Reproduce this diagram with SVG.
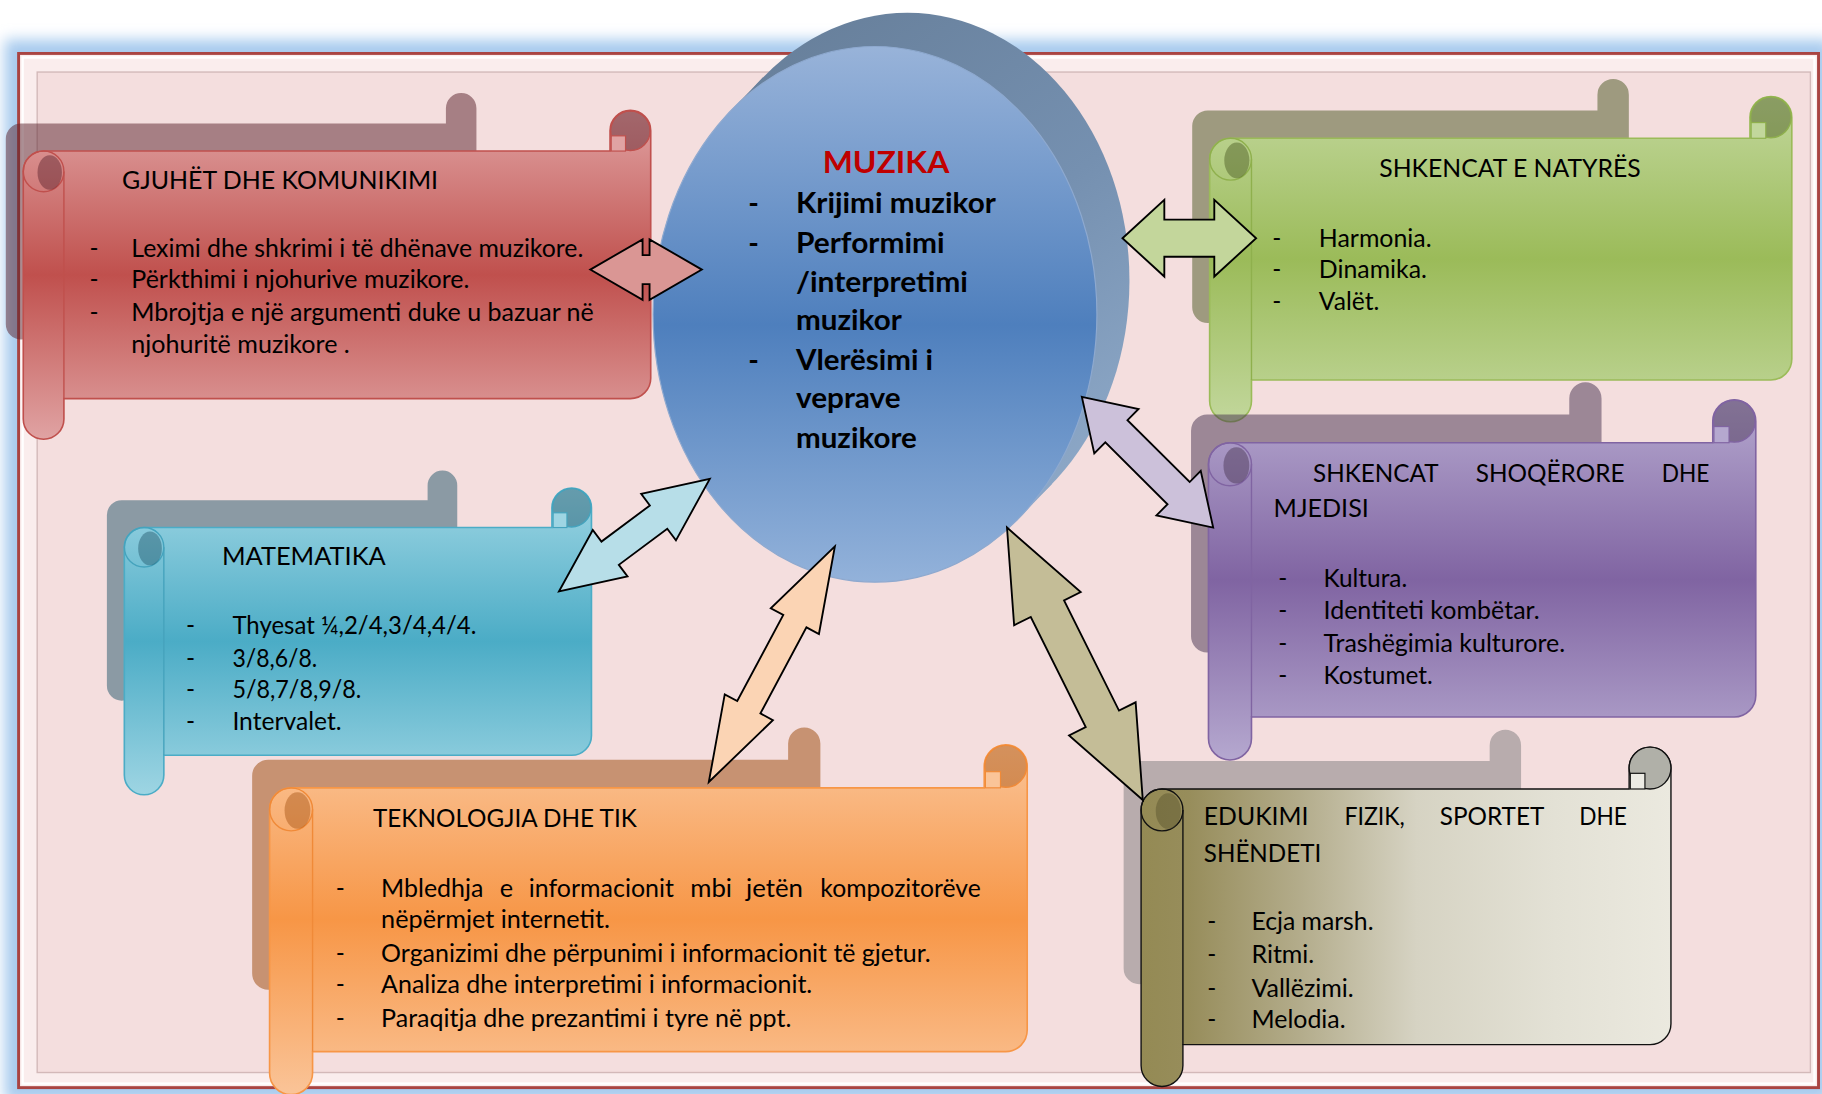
<svg xmlns="http://www.w3.org/2000/svg" width="1822" height="1094" viewBox="0 0 1822 1094">
<defs>
<style>
.t{font-family:Lato,'Liberation Sans',sans-serif;font-size:21px;fill:#000}
.bd{font-weight:700;font-size:24.5px}
.mz{font-weight:700;font-size:26px;fill:#C00000}
.arr{stroke:#000;stroke-width:1.6;stroke-linejoin:miter}
.shd{fill-opacity:0.5}
.ln{fill:none;stroke-width:1.2}
</style>
<filter id="blur" x="-5%" y="-5%" width="110%" height="110%"><feGaussianBlur stdDeviation="6"/></filter>
<linearGradient id="gRed" x1="0" y1="0" x2="0" y2="1"><stop offset="0" stop-color="#E0A3A3"/><stop offset="0.5" stop-color="#C0504D"/><stop offset="1" stop-color="#E0A3A3"/></linearGradient>
<linearGradient id="gGreen" x1="0" y1="0" x2="0" y2="1"><stop offset="0" stop-color="#C2D79C"/><stop offset="0.5" stop-color="#9BBB59"/><stop offset="1" stop-color="#C2D79C"/></linearGradient>
<linearGradient id="gPurple" x1="0" y1="0" x2="0" y2="1"><stop offset="0" stop-color="#B5A8CF"/><stop offset="0.5" stop-color="#8064A2"/><stop offset="1" stop-color="#B5A8CF"/></linearGradient>
<linearGradient id="gBlue" x1="0" y1="0" x2="0" y2="1"><stop offset="0" stop-color="#9ED5E3"/><stop offset="0.5" stop-color="#4BACC6"/><stop offset="1" stop-color="#9ED5E3"/></linearGradient>
<linearGradient id="gOrange" x1="0" y1="0" x2="0" y2="1"><stop offset="0" stop-color="#FAC498"/><stop offset="0.5" stop-color="#F79646"/><stop offset="1" stop-color="#FAC498"/></linearGradient>
<linearGradient id="gEdu" x1="0" y1="0" x2="1" y2="0"><stop offset="0" stop-color="#948A54"/><stop offset="0.09" stop-color="#978D5B"/><stop offset="0.3" stop-color="#B3AC8B"/><stop offset="0.52" stop-color="#D6D3C3"/><stop offset="0.78" stop-color="#E3E1D5"/><stop offset="1" stop-color="#EBE9DF"/></linearGradient>
<linearGradient id="gFront" x1="0" y1="0" x2="0" y2="1"><stop offset="0" stop-color="#98B3D9"/><stop offset="0.52" stop-color="#4E7FBD"/><stop offset="1" stop-color="#93B2DA"/></linearGradient>
<linearGradient id="gBack" gradientUnits="userSpaceOnUse" x1="640" y1="20" x2="960" y2="460"><stop offset="0" stop-color="#667E99"/><stop offset="0.5" stop-color="#7590B0"/><stop offset="1" stop-color="#93AECD"/></linearGradient>
<path id="pRed" d="M37.5,130 L525,130 L525,112.5 A17.5,17.5 0 0 1 560,112.5 L560,325.5 A17.5,17.5 0 0 1 542.5,343 L55,343 L55,360.5 A17.5,17.5 0 0 1 20,360.5 L20,147.5 A17.5,17.5 0 0 1 37.5,130 Z"/>
<path id="pGreen" d="M1059,119 L1506,119 L1506,101 A18,18 0 0 1 1542,101 L1542,309 A18,18 0 0 1 1524,327 L1077,327 L1077,345 A18,18 0 0 1 1041,345 L1041,137 A18,18 0 0 1 1059,119 Z"/>
<path id="pPurple" d="M1058.5,381 L1474,381 L1474,362.5 A18.5,18.5 0 0 1 1511,362.5 L1511,598.5 A18.5,18.5 0 0 1 1492.5,617 L1077,617 L1077,635.5 A18.5,18.5 0 0 1 1040,635.5 L1040,399.5 A18.5,18.5 0 0 1 1058.5,381 Z"/>
<path id="pBlue" d="M124,454 L475,454 L475,437 A17,17 0 0 1 509,437 L509,633 A17,17 0 0 1 492,650 L141,650 L141,667 A17,17 0 0 1 107,667 L107,471 A17,17 0 0 1 124,454 Z"/>
<path id="pOrange" d="M250.5,678 L847,678 L847,659.5 A18.5,18.5 0 0 1 884,659.5 L884,886.5 A18.5,18.5 0 0 1 865.5,905 L269,905 L269,923.5 A18.5,18.5 0 0 1 232,923.5 L232,696.5 A18.5,18.5 0 0 1 250.5,678 Z"/>
<path id="pEdu" d="M1000,679 L1402,679 L1402,661 A18,18 0 0 1 1438,661 L1438,881 A18,18 0 0 1 1420,899 L1018,899 L1018,917 A18,18 0 0 1 982,917 L982,697 A18,18 0 0 1 1000,679 Z"/>
</defs>
<rect x="0" y="0" width="1822" height="1094" fill="#FFFFFF"/>
<g transform="scale(1.162)">
<g id="frame">
<rect x="4" y="34" width="1572" height="914" fill="#A8CBEE" filter="url(#blur)"/>
<rect x="16" y="46" width="1549" height="890" fill="#FAEDED" stroke="#A94442" stroke-width="2.5"/>
<rect x="19.5" y="49.5" width="1542" height="883" fill="none" stroke="#FFFFFF" stroke-width="2"/>
<rect x="32" y="62" width="1526" height="861" fill="#F4DEDE" stroke="#D3B9B9" stroke-width="1.2"/>
</g>

<g id="node-muzika">
<ellipse cx="781" cy="241.5" rx="191" ry="230.5" fill="url(#gBack)"/>
<polygon points="628.7,95.5 656.7,66.5 905.3,416.5 877.3,445.5" fill="url(#gBack)"/>
<ellipse cx="753" cy="270.5" rx="191" ry="230.5" fill="url(#gFront)" stroke="#8EA9CF" stroke-width="1"/>
<text class="t mz" x="708" y="149" textLength="109" lengthAdjust="spacingAndGlyphs">MUZIKA</text>
<text class="t bd" x="644" y="183.5">-</text>
<text class="t bd" x="685" y="183.5" textLength="172" lengthAdjust="spacingAndGlyphs">Krijimi muzikor</text>
<text class="t bd" x="644" y="217.5">-</text>
<text class="t bd" x="685" y="217.5" textLength="128" lengthAdjust="spacingAndGlyphs">Performimi</text>
<text class="t bd" x="685" y="251" textLength="148" lengthAdjust="spacingAndGlyphs">/interpretimi</text>
<text class="t bd" x="685" y="284" textLength="91" lengthAdjust="spacingAndGlyphs">muzikor</text>
<text class="t bd" x="644" y="318.5">-</text>
<text class="t bd" x="685" y="318.5" textLength="118" lengthAdjust="spacingAndGlyphs">Vlerësimi i</text>
<text class="t bd" x="685" y="351" textLength="90" lengthAdjust="spacingAndGlyphs">veprave</text>
<text class="t bd" x="685" y="385.5" textLength="104" lengthAdjust="spacingAndGlyphs">muzikore</text>
</g>

<g id="node-gjuhet">
<use href="#pRed" transform="translate(5 80) scale(0.75) translate(-20 -95)" fill="#58202A" class="shd"/>
<use href="#pRed" fill="url(#gRed)" stroke="#C0504D" stroke-width="1.4"/>
<line x1="55" y1="147.5" x2="55" y2="343" stroke="#C0504D" class="ln"/>
<circle cx="37.5" cy="147.5" r="17.5" stroke="#C0504D" class="ln"/>
<ellipse cx="42.8" cy="148.5" rx="10.5" ry="14.9" fill="#58202A" fill-opacity="0.45"/>
<circle cx="542.5" cy="112.5" r="17" fill="#58202A" fill-opacity="0.45" stroke="#C0504D" stroke-width="1.2"/>
<rect x="526" y="116.9" width="12.3" height="13.1" fill="#E0A3A3" stroke="#C0504D" stroke-width="1"/>
<text class="t" x="105" y="163" textLength="272" lengthAdjust="spacingAndGlyphs">GJUHËT DHE KOMUNIKIMI</text>
<text class="t" x="77" y="221">-</text>
<text class="t" x="113" y="221" textLength="389" lengthAdjust="spacingAndGlyphs">Leximi dhe shkrimi i të dhënave muzikore.</text>
<text class="t" x="77" y="248">-</text>
<text class="t" x="113" y="248" textLength="291" lengthAdjust="spacingAndGlyphs">Përkthimi i njohurive muzikore.</text>
<text class="t" x="77" y="276">-</text>
<text class="t" x="113" y="276" textLength="398" lengthAdjust="spacingAndGlyphs">Mbrojtja e një argumenti duke u bazuar në</text>
<text class="t" x="113" y="304" textLength="188" lengthAdjust="spacingAndGlyphs">njohuritë muzikore .</text>
</g>

<g id="node-natyres">
<use href="#pGreen" transform="translate(1026 68) scale(0.75) translate(-1041 -83)" fill="#485620" class="shd"/>
<use href="#pGreen" fill="url(#gGreen)" stroke="#9BBB59" stroke-width="1.4"/>
<line x1="1077" y1="137" x2="1077" y2="327" stroke="#8FB04D" class="ln"/>
<circle cx="1059" cy="137" r="18" stroke="#8FB04D" class="ln"/>
<ellipse cx="1064.4" cy="138" rx="10.8" ry="15.3" fill="#485620" fill-opacity="0.45"/>
<circle cx="1524" cy="101" r="17.5" fill="#485620" fill-opacity="0.45" stroke="#8FB04D" stroke-width="1.2"/>
<rect x="1507" y="105.5" width="12.6" height="13.5" fill="#C2D79C" stroke="#8FB04D" stroke-width="1"/>
<text class="t" x="1187" y="152" textLength="225" lengthAdjust="spacingAndGlyphs">SHKENCAT E NATYRËS</text>
<text class="t" x="1095" y="212.5">-</text>
<text class="t" x="1135" y="212.5" textLength="97" lengthAdjust="spacingAndGlyphs">Harmonia.</text>
<text class="t" x="1095" y="239.5">-</text>
<text class="t" x="1135" y="239.5" textLength="93" lengthAdjust="spacingAndGlyphs">Dinamika.</text>
<text class="t" x="1095" y="267">-</text>
<text class="t" x="1135" y="267" textLength="52" lengthAdjust="spacingAndGlyphs">Valët.</text>
</g>

<g id="node-shoqerore">
<use href="#pPurple" transform="translate(1025 329) scale(0.75) translate(-1040 -344)" fill="#44304E" class="shd"/>
<use href="#pPurple" fill="url(#gPurple)" stroke="#8064A2" stroke-width="1.4"/>
<line x1="1077" y1="399.5" x2="1077" y2="617" stroke="#8064A2" class="ln"/>
<circle cx="1058.5" cy="399.5" r="18.5" stroke="#8064A2" class="ln"/>
<ellipse cx="1064" cy="400.5" rx="11.1" ry="15.7" fill="#44304E" fill-opacity="0.45"/>
<circle cx="1492.5" cy="362.5" r="18" fill="#44304E" fill-opacity="0.45" stroke="#8064A2" stroke-width="1.2"/>
<rect x="1475" y="367.1" width="13" height="13.9" fill="#B5A8CF" stroke="#8064A2" stroke-width="1"/>
<text class="t" x="1130" y="415" textLength="108" lengthAdjust="spacingAndGlyphs">SHKENCAT</text>
<text class="t" x="1270" y="415" textLength="128" lengthAdjust="spacingAndGlyphs">SHOQËRORE</text>
<text class="t" x="1430" y="415" textLength="41" lengthAdjust="spacingAndGlyphs">DHE</text>
<text class="t" x="1096" y="445" textLength="82" lengthAdjust="spacingAndGlyphs">MJEDISI</text>
<text class="t" x="1100" y="505">-</text>
<text class="t" x="1139" y="505" textLength="72" lengthAdjust="spacingAndGlyphs">Kultura.</text>
<text class="t" x="1100" y="533">-</text>
<text class="t" x="1139" y="533" textLength="186" lengthAdjust="spacingAndGlyphs">Identiteti kombëtar.</text>
<text class="t" x="1100" y="561">-</text>
<text class="t" x="1139" y="561" textLength="208" lengthAdjust="spacingAndGlyphs">Trashëgimia kulturore.</text>
<text class="t" x="1100" y="589">-</text>
<text class="t" x="1139" y="589" textLength="94" lengthAdjust="spacingAndGlyphs">Kostumet.</text>
</g>

<g id="node-matematika">
<use href="#pBlue" transform="translate(92 405) scale(0.75) translate(-107 -420)" fill="#22566A" class="shd"/>
<use href="#pBlue" fill="url(#gBlue)" stroke="#4BACC6" stroke-width="1.4"/>
<line x1="141" y1="471" x2="141" y2="650" stroke="#45A3BD" class="ln"/>
<circle cx="124" cy="471" r="17" stroke="#45A3BD" class="ln"/>
<ellipse cx="129.1" cy="472" rx="10.2" ry="14.5" fill="#22566A" fill-opacity="0.45"/>
<circle cx="492" cy="437" r="16.5" fill="#22566A" fill-opacity="0.45" stroke="#45A3BD" stroke-width="1.2"/>
<rect x="476" y="441.3" width="11.9" height="12.7" fill="#9ED5E3" stroke="#45A3BD" stroke-width="1"/>
<text class="t" x="191" y="486" textLength="141" lengthAdjust="spacingAndGlyphs">MATEMATIKA</text>
<text class="t" x="160" y="546">-</text>
<text class="t" x="200" y="546" textLength="210" lengthAdjust="spacingAndGlyphs">Thyesat ¼,2/4,3/4,4/4.</text>
<text class="t" x="160" y="574">-</text>
<text class="t" x="200" y="574" textLength="73" lengthAdjust="spacingAndGlyphs">3/8,6/8.</text>
<text class="t" x="160" y="601">-</text>
<text class="t" x="200" y="601" textLength="111" lengthAdjust="spacingAndGlyphs">5/8,7/8,9/8.</text>
<text class="t" x="160" y="628">-</text>
<text class="t" x="200" y="628" textLength="94" lengthAdjust="spacingAndGlyphs">Intervalet.</text>
</g>

<g id="node-teknologjia">
<use href="#pOrange" transform="translate(217 626) scale(0.75) translate(-232 -641)" fill="#9A4606" class="shd"/>
<use href="#pOrange" fill="url(#gOrange)" stroke="#F79646" stroke-width="1.4"/>
<line x1="269" y1="696.5" x2="269" y2="905" stroke="#F08A38" class="ln"/>
<circle cx="250.5" cy="696.5" r="18.5" stroke="#F08A38" class="ln"/>
<ellipse cx="256" cy="697.5" rx="11.1" ry="15.7" fill="#9A4606" fill-opacity="0.4"/>
<circle cx="865.5" cy="659.5" r="18" fill="#9A4606" fill-opacity="0.4" stroke="#F08A38" stroke-width="1.2"/>
<rect x="848" y="664.1" width="13" height="13.9" fill="#FAC498" stroke="#F08A38" stroke-width="1"/>
<text class="t" x="321" y="712" textLength="227" lengthAdjust="spacingAndGlyphs">TEKNOLOGJIA DHE TIK</text>
<text class="t" x="289" y="772">-</text>
<text class="t" x="328" y="772" textLength="88" lengthAdjust="spacingAndGlyphs">Mbledhja</text>
<text class="t" x="430" y="772" textLength="11.5" lengthAdjust="spacingAndGlyphs">e</text>
<text class="t" x="455" y="772" textLength="125" lengthAdjust="spacingAndGlyphs">informacionit</text>
<text class="t" x="594" y="772" textLength="36" lengthAdjust="spacingAndGlyphs">mbi</text>
<text class="t" x="642" y="772" textLength="49" lengthAdjust="spacingAndGlyphs">jetën</text>
<text class="t" x="706" y="772" textLength="138" lengthAdjust="spacingAndGlyphs">kompozitorëve</text>
<text class="t" x="328" y="799" textLength="197" lengthAdjust="spacingAndGlyphs">nëpërmjet internetit.</text>
<text class="t" x="289" y="828">-</text>
<text class="t" x="328" y="828" textLength="473" lengthAdjust="spacingAndGlyphs">Organizimi dhe përpunimi i informacionit të gjetur.</text>
<text class="t" x="289" y="855">-</text>
<text class="t" x="328" y="855" textLength="371" lengthAdjust="spacingAndGlyphs">Analiza dhe interpretimi i informacionit.</text>
<text class="t" x="289" y="884">-</text>
<text class="t" x="328" y="884" textLength="353" lengthAdjust="spacingAndGlyphs">Paraqitja dhe prezantimi i tyre në ppt.</text>
</g>

<g id="node-edukimi">
<use href="#pEdu" transform="translate(967 628) scale(0.75) translate(-982 -643)" fill="#7C7A7C" class="shd"/>
<use href="#pEdu" fill="url(#gEdu)" stroke="#111" stroke-width="1.2"/>
<line x1="1018" y1="697" x2="1018" y2="899" stroke="#111" class="ln"/>
<circle cx="1000" cy="697" r="18" stroke="#111" class="ln"/>
<ellipse cx="1005.4" cy="698" rx="10.8" ry="15.3" fill="#5E5830" fill-opacity="0.5"/>
<circle cx="1420" cy="661" r="18" fill="#B0B0A8" stroke="#111" stroke-width="1.2"/>
<rect x="1403" y="665.5" width="12.6" height="13.5" fill="#ECEBE4" stroke="#111" stroke-width="1"/>
<text class="t" x="1036" y="710" textLength="90" lengthAdjust="spacingAndGlyphs">EDUKIMI</text>
<text class="t" x="1157" y="710" textLength="52" lengthAdjust="spacingAndGlyphs">FIZIK,</text>
<text class="t" x="1239" y="710" textLength="90" lengthAdjust="spacingAndGlyphs">SPORTET</text>
<text class="t" x="1359" y="710" textLength="41" lengthAdjust="spacingAndGlyphs">DHE</text>
<text class="t" x="1036" y="742" textLength="101" lengthAdjust="spacingAndGlyphs">SHËNDETI</text>
<text class="t" x="1039" y="800">-</text>
<text class="t" x="1077" y="800" textLength="105" lengthAdjust="spacingAndGlyphs">Ecja marsh.</text>
<text class="t" x="1039" y="829">-</text>
<text class="t" x="1077" y="829" textLength="54" lengthAdjust="spacingAndGlyphs">Ritmi.</text>
<text class="t" x="1039" y="858">-</text>
<text class="t" x="1077" y="858" textLength="88" lengthAdjust="spacingAndGlyphs">Vallëzimi.</text>
<text class="t" x="1039" y="885">-</text>
<text class="t" x="1077" y="885" textLength="81" lengthAdjust="spacingAndGlyphs">Melodia.</text>
</g>

<g id="connectors">
<polygon class="arr" fill="#DA9694" transform="translate(508 232)" points="0,0 45,-26 45,-12.5 51,-12.5 51,-26 96,0 51,26 51,12.5 45,12.5 45,26"/>
<polygon class="arr" fill="#C3D69B" transform="translate(966 205)" points="0,0 36,-33 36,-16 79,-16 79,-33 115,0 79,33 79,16 36,16 36,33"/>
<polygon class="arr" fill="#B7DEE8" transform="translate(481 509) rotate(-36.73)" points="0,0 55,-25 55,-12.5 107,-12.5 107,-25 162,0 107,25 107,12.5 55,12.5 55,25"/>
<polygon class="arr" fill="#CCC1DA" transform="translate(931 341.5) rotate(44.87)" points="0,0 42,-27 42,-13.5 117.5,-13.5 117.5,-27 159.5,0 117.5,27 117.5,13.5 42,13.5 42,27"/>
<polygon class="arr" fill="#FBD4B4" transform="translate(610 673) rotate(-61.86)" points="0,0 73,-23.5 73,-11.3 157,-11.3 157,-23.5 230,0 157,23.5 157,11.3 73,11.3 73,23.5"/>
<polygon class="arr" fill="#C4BD97" transform="translate(866.6 454) rotate(63.51)" points="0,0 78,-32 78,-16 184,-16 184,-32 262,0 184,32 184,16 78,16 78,32"/>
</g>
</g>
</svg>
